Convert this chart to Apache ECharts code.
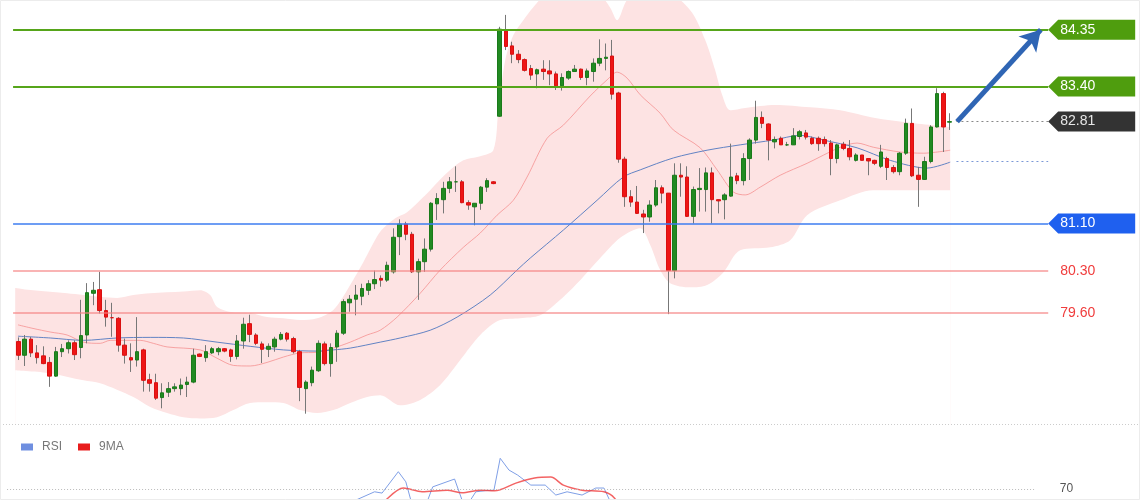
<!DOCTYPE html>
<html><head><meta charset="utf-8">
<script src="https://cdn.jsdelivr.net/npm/echarts@6.0.0/dist/echarts.min.js"></script>
<style>html,body{margin:0;padding:0;background:#fff}#c{width:1140px;height:500px}</style>
</head><body><div id="c"></div>
<script>
// ---- candle data (150 bars) ----
const opens = [79.12,78.89,79.16,78.93,78.88,78.77,78.54,78.95,79.00,79.10,
79.02,79.23,79.93,79.99,79.64,79.52,79.51,79.06,78.85,78.81,
78.98,78.48,78.43,78.18,78.27,78.33,78.33,78.40,78.44,78.91,
78.85,78.93,78.95,79.00,78.98,78.87,79.13,79.42,79.23,79.08,
78.99,79.03,79.16,79.26,79.17,78.95,78.33,78.43,78.63,79.08,
78.75,79.03,79.26,79.77,79.83,79.88,79.98,80.09,80.18,80.15,
80.29,80.88,81.09,80.92,80.29,80.46,80.67,81.43,81.50,81.69,
81.80,81.80,81.45,81.38,81.44,81.71,81.80,82.90,84.33,84.08,
83.94,83.85,83.70,83.61,83.69,83.66,83.61,83.41,83.54,83.65,
83.69,83.55,83.65,83.79,83.87,83.91,83.29,82.18,81.55,81.46,
81.26,81.21,81.41,81.70,81.61,80.31,81.91,81.88,81.22,81.67,
81.67,81.95,81.50,81.50,81.56,81.90,81.82,82.19,82.50,82.88,
82.77,82.47,82.53,82.42,82.42,82.56,82.62,82.53,82.53,82.51,
82.45,82.19,82.43,82.36,82.16,82.25,82.19,82.16,82.06,82.19,
82.04,81.97,82.28,82.78,81.91,81.84,82.14,82.72,83.28,82.80];
const closes = [78.89,79.16,78.93,78.85,78.75,78.54,78.95,79.00,79.10,78.90,
79.22,79.94,79.98,79.64,79.53,79.52,79.06,78.89,78.81,78.95,
78.47,78.42,78.17,78.26,78.33,78.36,78.39,78.44,78.89,78.87,
78.95,79.00,79.00,78.96,78.87,79.13,79.41,79.24,79.09,78.99,
79.04,79.16,79.24,79.16,78.95,78.35,78.44,78.64,79.09,78.75,
79.02,79.26,79.79,79.83,79.90,80.01,80.09,80.16,80.15,80.40,
80.87,81.09,80.92,80.29,80.46,80.67,81.44,81.52,81.69,81.80,
81.80,81.45,81.41,81.44,81.71,81.82,81.77,84.36,84.07,83.94,
83.85,83.67,83.59,83.68,83.65,83.61,83.41,83.55,83.65,83.69,
83.55,83.66,83.79,83.87,83.89,83.27,82.18,81.55,81.46,81.27,
81.21,81.41,81.70,81.61,80.31,81.91,81.88,81.22,81.67,81.69,
81.95,81.50,81.48,81.58,81.88,81.82,82.19,82.50,82.88,82.78,
82.50,82.51,82.42,82.42,82.57,82.64,82.55,82.44,82.44,82.44,
82.19,82.42,82.36,82.22,82.25,82.16,82.15,82.11,82.30,82.04,
81.97,82.28,82.78,81.90,81.84,82.14,82.72,83.28,82.72,82.81];
const lows = [78.81,78.71,78.86,78.75,78.74,78.36,78.53,78.86,78.92,78.81,
78.84,79.09,79.73,79.59,79.37,79.20,78.95,78.75,78.61,78.70,
78.28,78.28,78.14,78.00,78.19,78.28,78.22,78.19,78.42,78.86,
78.78,78.91,78.89,78.94,78.78,78.82,79.00,79.11,79.06,78.76,
78.86,78.95,79.14,79.12,78.92,78.12,77.91,78.37,78.61,78.72,
78.53,78.78,79.23,79.62,79.56,79.73,79.90,80.00,80.04,80.12,
80.26,80.57,80.82,80.27,79.82,80.29,80.63,81.16,81.27,81.61,
81.63,81.44,81.33,81.07,81.33,81.63,81.76,82.89,84.01,83.79,
83.79,83.65,83.51,83.37,83.51,83.42,83.34,83.33,83.51,83.65,
83.51,83.42,83.48,83.74,83.67,83.18,82.12,81.38,81.38,81.26,
80.94,81.13,81.38,81.44,79.58,80.18,81.55,81.21,81.10,81.30,
81.30,81.10,81.27,81.17,81.55,81.76,81.74,81.83,82.44,82.70,
82.16,82.36,82.42,82.40,82.42,82.51,82.51,82.42,82.32,82.39,
81.91,82.11,82.33,82.16,82.14,82.16,81.91,82.08,82.03,81.83,
81.94,81.91,82.25,81.88,81.38,81.83,82.11,82.71,82.30,82.67];
const highs = [79.19,79.23,79.20,79.06,79.04,78.86,79.03,79.08,79.14,79.14,
79.82,80.10,80.12,80.29,79.82,79.77,79.53,79.17,79.09,79.53,
79.00,78.58,78.58,78.42,78.44,78.42,78.50,78.53,79.00,78.92,
79.06,79.03,79.03,79.01,79.00,79.23,79.52,79.57,79.26,79.12,
79.09,79.20,79.28,79.28,79.20,78.98,78.47,78.70,79.14,79.12,
79.09,79.31,79.83,79.90,80.07,80.09,80.15,80.31,80.23,80.46,
81.02,81.17,81.13,80.96,80.51,80.85,81.46,81.61,81.80,81.88,
82.06,81.83,81.49,81.44,81.73,81.86,81.81,84.40,84.60,84.15,
84.01,83.87,83.76,83.70,83.84,83.84,83.65,83.62,83.67,83.76,
83.70,83.70,83.87,84.19,84.12,84.18,83.31,82.22,81.66,81.73,
81.33,81.49,81.83,81.74,81.61,82.11,82.11,82.06,81.72,82.03,
82.04,82.04,81.50,81.61,82.44,81.95,82.28,82.53,83.16,82.98,
82.78,82.56,82.56,82.47,82.70,82.67,82.67,82.56,82.56,82.56,
82.50,82.44,82.47,82.50,82.28,82.25,82.19,82.17,82.42,82.22,
82.08,82.30,82.86,83.03,82.05,82.22,82.75,83.37,83.31,82.95];

// ---- indicator readings: [bar index, value] ----
const upperBand = [[-0.5,80.02],[2.35,79.98],[7.8,79.93],[13.1,79.87],[15.8,79.85],[18.4,79.90],[21.1,79.93],[26.4,79.96],[29.1,79.98],[30.7,79.90],[31.8,79.70],[34.4,79.61],[37.1,79.60],[39.8,79.53],[42.4,79.51],[45.1,79.48],[47.8,79.51],[50.4,79.65],[52.6,79.98],[55.2,80.45],[57.9,80.96],[60.3,81.19],[62.2,81.29],[65.9,81.66],[68.6,81.95],[71.2,82.16],[73.9,82.23],[76.0,82.33],[76.8,83.00],[77.9,83.84],[79.2,84.26],[80.8,84.51],[82.4,84.73],[84.3,84.90],[93.1,84.90],[94.7,84.72],[95.8,84.51],[97.4,84.85],[99.5,84.98],[103.5,84.98],[107.5,84.68],[109.9,84.18],[111.5,83.67],[112.6,83.26],[113.9,83.00],[116.3,83.04],[121.1,83.09],[126.7,83.05],[131.5,83.00],[137.1,82.87],[141.9,82.80],[149.1,82.72]];
const lowerBand = [[-0.5,78.64],[5.1,78.59],[10.4,78.47],[13.1,78.42],[18.4,78.19],[21.1,78.02],[23.8,77.92],[26.4,77.85],[29.1,77.83],[31.8,77.85],[34.4,77.97],[37.1,78.09],[39.8,78.10],[42.4,78.09],[45.1,77.97],[47.8,77.92],[50.4,77.97],[53.1,78.09],[55.8,78.19],[57.9,78.22],[61.1,78.05],[64.3,78.14],[67.5,78.39],[70.7,78.81],[73.9,79.23],[77.1,79.48],[80.3,79.51],[83.5,79.56],[86.7,79.82],[89.9,80.15],[93.1,80.52],[96.3,80.86],[99.5,81.02],[101.1,80.74],[102.7,80.32],[104.3,80.10],[107.5,80.03],[110.2,80.07],[112.8,80.28],[115.5,80.65],[120.3,80.70],[123.5,80.82],[126.2,81.24],[131.5,81.49],[136.8,81.66],[149.1,81.66]];
const midLine = [[-0.05,79.40],[2.35,79.34],[5.1,79.28],[7.8,79.23],[10.4,79.11],[13.1,79.09],[14.7,79.14],[17.4,79.14],[19.5,79.14],[21.6,79.09],[23.8,79.03],[29.1,78.98],[31.8,78.84],[34.4,78.72],[37.1,78.71],[39.8,78.77],[42.4,78.86],[45.1,78.93],[47.8,78.94],[50.4,79.01],[53.1,79.11],[55.8,79.23],[57.9,79.31],[60.6,79.53],[64.3,79.93],[67.5,80.32],[71.2,80.70],[73.9,80.94],[76.6,81.24],[79.2,81.49],[81.4,81.88],[84.6,82.53],[87.2,82.75],[91.5,83.24],[94.2,83.51],[95.8,83.64],[97.4,83.54],[99.5,83.26],[102.7,82.95],[104.8,82.67],[109.1,82.37],[111.8,82.00],[114.4,81.63],[116.3,81.58],[118.7,81.71],[121.9,81.91],[126.2,82.11],[131.5,82.38],[134.2,82.45],[136.8,82.38],[141.1,82.30],[144.8,82.28],[149.1,82.33]];
const slowMA = [[-0.05,79.21],[5.1,79.18],[10.4,79.14],[15.8,79.18],[21.1,79.19],[26.4,79.18],[31.8,79.11],[37.1,79.04],[42.4,78.98],[47.8,78.96],[50.4,78.98],[53.1,79.01],[57.9,79.11],[61.1,79.18],[65.9,79.31],[70.2,79.53],[75.5,79.90],[79.8,80.32],[81.9,80.52],[87.2,80.99],[92.6,81.49],[96.8,81.88],[99.5,82.00],[104.8,82.20],[110.2,82.33],[115.5,82.42],[120.8,82.50],[125.1,82.58],[128.8,82.50],[134.2,82.37],[139.5,82.16],[145.4,82.03],[149.1,82.13]];
const rsiLine = [[53.0,58],[54.0,63.2],[57.0,68.3],[58.2,67.5],[60.8,80.6],[62.0,74.4],[62.8,63.2],[63.4,58],[65.0,58],[66.3,71.3],[69.8,76.1],[71.0,63.2],[71.8,60],[73.2,68.3],[74.8,69.0],[76.1,69.3],[77.1,88.8],[78.5,81.6],[79.9,78.5],[82.0,72.4],[84.3,72.4],[86.0,66.3],[87.8,68.3],[90.2,66.3],[92.4,70.6],[93.7,70.6],[94.6,63.2],[95.3,50],[96.3,30]];
const rsiMA = [[57.6,57],[58.8,63.2],[61.6,70.6],[64.6,68.3],[68.6,69.3],[71.0,67.7],[73.9,69.3],[76.2,68.9],[79.6,73.6],[82.6,76.7],[85.2,77.3],[87.2,72.4],[90.2,69.3],[93.7,68.3],[95.4,64.4],[96.3,57]];

// ---- levels ----
const resistLevels = [84.35, 83.40];
const supportLevel = 81.10;
const minorLevels = [80.30, 79.60];
const lastClose = 82.81;
const slowMALast = 82.14;
const rsiLevel = 70;
const targetLevel = 84.35;

const SLOTS = 165;
const categories = Array.from({length: SLOTS}, (_, i) => 'B' + i);
const wickData = opens.map((o, i) => [o, closes[i], lows[i], highs[i]]);
const bodyData = opens.map((o, i) => [o, closes[i], Math.min(o, closes[i]), Math.max(o, closes[i])]);

// layout: candle grid uses a category axis; overlay grids use a value axis aligned to bar indices
const BAR = 6.25, CAND_LEFT = 15.2;
const VMIN = -2, VMAX = 166;
const OV_LEFT = CAND_LEFT + (VMIN + 0.5) * BAR, OV_W = (VMAX - VMIN) * BAR;
const X0 = -0.84, X1 = 164.78;
const GREEN = '#56a51a', BLUE = '#3d7cf0', PINKLINE = 'rgba(244,140,140,0.75)';
const FONT = '"Liberation Sans", Arial, sans-serif';

function hline(v, color, width) {
  return [{coord: [X0, v], lineStyle: {color, width, type: 'solid'}}, {coord: [X1, v]}];
}
function redLine(v) {
  return [{coord: [X0, v], lineStyle: {color: 'rgba(245,130,130,0.6)', width: 2, type: 'solid'},
           label: {show: true, position: 'end', distance: 12, formatter: v.toFixed(2), color: '#f03c3c', fontSize: 14, fontFamily: FONT}},
          {coord: [X1, v]}];
}

const chart = echarts.init(document.getElementById('c'));
chart.setOption({
  animation: false,
  backgroundColor: '#ffffff',
  textStyle: {fontFamily: FONT},
  legend: {
    data: ['RSI', '9MA'], left: 16, top: 436, icon: 'rect', itemWidth: 12, itemHeight: 7, itemGap: 16,
    textStyle: {color: '#777', fontSize: 12, fontFamily: FONT, padding: [0, 0, 0, 4]}
  },
  grid: [
    {left: CAND_LEFT, top: 0, width: SLOTS * BAR, height: 425, outerBoundsMode: 'none'},
    {left: OV_LEFT, top: 0, width: OV_W, height: 425, outerBoundsMode: 'none'},
    {left: OV_LEFT, top: 440, width: OV_W, height: 60, outerBoundsMode: 'none'}
  ],
  xAxis: [
    {type: 'category', gridIndex: 0, data: categories, show: false},
    {type: 'value', gridIndex: 1, min: VMIN, max: VMAX, show: false, splitLine: {show: false}},
    {type: 'value', gridIndex: 2, min: VMIN, max: VMAX, show: false, splitLine: {show: false}}
  ],
  yAxis: [
    {type: 'value', gridIndex: 0, min: 77.72, max: 84.85, show: false, splitLine: {show: false}},
    {type: 'value', gridIndex: 1, min: 77.72, max: 84.85, show: false, splitLine: {show: false}},
    {type: 'value', gridIndex: 2, min: 63.27, max: 100, show: false, splitLine: {show: false}}
  ],
  series: [
    {name: 'bbUpper', type: 'line', xAxisIndex: 1, yAxisIndex: 1, data: upperBand, symbol: 'none', smooth: 0.3,
     lineStyle: {width: 0}, areaStyle: {color: '#fde3e3', opacity: 1, origin: 'start'}, z: 0, silent: true},
    {name: 'bbLower', type: 'line', xAxisIndex: 1, yAxisIndex: 1, data: lowerBand, symbol: 'none', smooth: 0.3,
     lineStyle: {width: 0}, areaStyle: {color: '#ffffff', opacity: 1, origin: 'start'}, z: 1, silent: true},
    {name: 'mid', type: 'line', xAxisIndex: 1, yAxisIndex: 1, data: midLine, symbol: 'none', smooth: 0.3,
     lineStyle: {width: 1, color: PINKLINE}, z: 2, silent: true,
     markLine: {
       silent: true, symbol: 'none', animation: false,
       label: {show: false},
       data: [
         hline(resistLevels[0], GREEN, 2),
         hline(resistLevels[1], GREEN, 2),
         hline(supportLevel, BLUE, 1.5),
         redLine(minorLevels[0]),
         redLine(minorLevels[1]),
         [{coord: [150.1, lastClose], lineStyle: {color: '#888', width: 1, type: [2, 3]}}, {coord: [X1, lastClose]}],
         [{coord: [150.1, slowMALast], lineStyle: {color: '#7b98d6', width: 1, type: [2, 3]}}, {coord: [X1, slowMALast]}]
       ]
     }},
    {name: 'slow', type: 'line', xAxisIndex: 1, yAxisIndex: 1, data: slowMA, symbol: 'none', smooth: 0.3,
     lineStyle: {width: 1, color: '#6283c4'}, z: 2, silent: true,
     markLine: {
       silent: true, symbol: ['none', 'arrow'], symbolSize: [18, 20], animation: false, label: {show: false},
       data: [[{coord: [150.2, lastClose]}, {coord: [163.6, targetLevel]}]],
       lineStyle: {color: '#2f65b4', width: 5, type: 'solid'}
     }},
    {name: 'wick', type: 'candlestick', xAxisIndex: 0, yAxisIndex: 0, data: wickData, barWidth: 1, z: 3, silent: true,
     itemStyle: {color: '#777', color0: '#777', borderColor: '#777', borderColor0: '#777', borderWidth: 1}},
    {name: 'body', type: 'candlestick', xAxisIndex: 0, yAxisIndex: 0, data: bodyData, barWidth: 4, z: 4, silent: true,
     itemStyle: {color: '#228a22', color0: '#ee1515', borderColor: '#1a7a1a', borderColor0: '#d91010', borderWidth: 1}},
    {name: 'RSI', type: 'line', xAxisIndex: 2, yAxisIndex: 2, data: rsiLine, symbol: 'none',
     lineStyle: {width: 1, color: '#7f9fe6'}, itemStyle: {color: '#6f8fe0'}, z: 3,
     markLine: {
       silent: true, symbol: 'none', animation: false,
       data: [[{coord: [-1.8, rsiLevel]}, {coord: [162.8, rsiLevel]}]],
       lineStyle: {color: '#bbb', width: 1, type: [1, 2]},
       label: {show: true, position: 'end', distance: 24, formatter: String(rsiLevel), color: '#555', fontSize: 12, fontFamily: FONT}
     }},
    {name: '9MA', type: 'line', xAxisIndex: 2, yAxisIndex: 2, data: rsiMA, symbol: 'none', smooth: 0.3,
     lineStyle: {width: 1.5, color: 'rgba(240,60,60,0.8)'}, itemStyle: {color: '#e81c1c'}, z: 3}
  ]
});

// price tags at the right end of the level lines
const tags = [
  {v: resistLevels[0], bg: '#4f9d0e', fg: '#ffffff'},
  {v: resistLevels[1], bg: '#4f9d0e', fg: '#ffffff'},
  {v: lastClose, bg: '#333333', fg: '#e6e6e6'},
  {v: supportLevel, bg: '#1f60ef', fg: '#ffffff'}
];
const graphics = [
  {type: 'line', z: 100, shape: {x1: 0, y1: 424.5, x2: 1140, y2: 424.5}, style: {stroke: '#cccccc', lineWidth: 1, lineDash: [1, 2]}, silent: true},
  {type: 'rect', z: 100, shape: {x: 0.5, y: 0.5, width: 1139, height: 499}, style: {fill: 'none', stroke: '#ececec', lineWidth: 1}, silent: true}
];
tags.forEach(t => {
  const p = chart.convertToPixel({xAxisIndex: 1, yAxisIndex: 1}, [X1, t.v]);
  const x = p[0], y = p[1], h = 10;
  graphics.push({type: 'polygon', z: 100, silent: true,
    shape: {points: [[x, y], [x + 10, y - h], [x + 87, y - h], [x + 87, y + h], [x + 10, y + h]]},
    style: {fill: t.bg}});
  graphics.push({type: 'text', z: 101, silent: true, x: x + 12, y: y,
    style: {text: t.v.toFixed(2), fill: t.fg, font: '14px ' + FONT, textVerticalAlign: 'middle', verticalAlign: 'middle'}});
});
chart.setOption({graphic: graphics});
</script>
</body></html>
